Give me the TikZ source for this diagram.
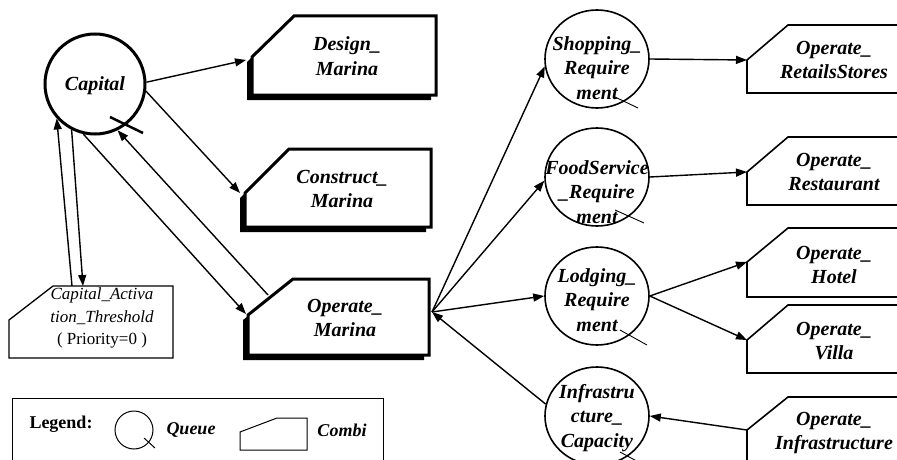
\documentclass[tikz,border=0pt]{standalone}
\usepackage{fontspec}
\setmainfont{Liberation Serif}
\usetikzlibrary{arrows.meta,shapes.geometric}
\tikzset{
  arr/.style={line width=1.4pt, -{Triangle[length=11pt,width=8pt]}},
  conn/.style={line width=1.4pt},
  bigq/.style={circle, draw, line width=3pt, minimum size=100pt, inner sep=0pt},
  smallq/.style={ellipse, draw, line width=1.6pt, minimum width=104pt, minimum height=98pt, inner sep=0pt},
  lbl/.style={font=\fontsize{20}{24.5}\selectfont\bfseries\itshape, align=center, inner sep=0pt},
  thrlbl/.style={font=\fontsize{17}{22.5}\selectfont, align=center, inner sep=0pt},
  leglbl/.style={font=\fontsize{18}{22}\selectfont\bfseries, inner sep=0pt},
  combithick/.style={draw, line width=3pt, fill=white, line join=miter},
  combishadow/.style={fill=black},
  combithin/.style={draw, line width=1.6pt, fill=white},
  tail/.style={line width=0.9pt},
}
% x1, y1, x2, y2, cutx, cuty, options
\newcommand\combishape[7]{\path[#7] (#1,#6) -- (#5,#2) -- (#3,#2) -- (#3,#4) -- (#1,#4) -- cycle;}
\begin{document}
\begin{tikzpicture}[x=1pt,y=-1pt]
\useasboundingbox (0,0) rectangle (897,460);
\clip (0,0) rectangle (897,460);

% ---------- thick combis ----------
\combishape{252}{16}{436}{95}{294}{57}{combishadow, xshift=-5pt, yshift=-5pt}
\combishape{252}{16}{436}{95}{294}{57}{combithick}
\combishape{245}{149}{431}{227}{289}{193}{combishadow, xshift=-5pt, yshift=-5pt}
\combishape{245}{149}{431}{227}{289}{193}{combithick}
\combishape{248}{279}{429}{355}{293}{315}{combishadow, xshift=-5pt, yshift=-5pt}
\combishape{248}{279}{429}{355}{293}{315}{combithick}

% ---------- thin combis ----------
\combishape{9}{286}{173}{358}{53}{320}{draw, line width=1.3pt, fill=white}
\combishape{747}{25}{910}{93}{788}{60}{combithin}
\combishape{747}{137}{910}{205}{788}{172}{combithin}
\combishape{747}{228}{910}{297}{788}{262}{combithin}
\combishape{747}{305}{910}{373}{788}{340}{combithin}
\combishape{747}{397}{910}{480}{788}{430}{combithin}

% ---------- combi labels and anchors ----------
\node[lbl] (design) at (347,56) {Design\_\\Marina};
\node[lbl] (construct) at (342,189) {Construct\_\\Marina};
\node[lbl] (om) at (345,318) {Operate\_\\Marina};
\node[thrlbl] (thr) at (102,318) {\itshape Capital\_Activa\\\itshape tion\_Threshold\\( Priority=0 )};
\node[lbl] (retail) at (834,60) {Operate\_\\RetailsStores};
\node[lbl] (rest) at (834,172) {Operate\_\\Restaurant};
\node[lbl] (hotel) at (834,265) {Operate\_\\Hotel};
\node[lbl] (villa) at (834,341) {Operate\_\\Villa};
\node[lbl] (oinfra) at (834,433) {Operate\_\\Infrastructure};

\coordinate (design-in) at (246,60);
\coordinate (construct-in) at (240,193);
\coordinate (om-in) at (246,314);
\coordinate (om-diag) at (268,295);
\coordinate (om-out) at (432,312);
\coordinate (thr-a) at (83,286);
\coordinate (thr-b) at (72,286);
\coordinate (retail-in) at (747,60);
\coordinate (rest-in) at (747,172);
\coordinate (hotel-in) at (747,262);
\coordinate (villa-in) at (747,340);
\coordinate (oinfra-in) at (747,430);

% ---------- queues ----------
\node[bigq] (cap) at (95,84) {};
\node[lbl] (cap-t) at (95,86) {Capital};
\draw[line width=2.5pt] (cap) ++(15,33) -- ++(33,16);

\node[smallq] (shop) at (597,59) {};
\node[lbl] (shop-t) at (597,68) {Shopping\_\\Require\\ment};
\node[smallq] (food) at (597,177) {};
\node[lbl] (food-t) at (597,192) {FoodService\\\_Require\\ment};
\node[smallq] (lodge) at (597,296) {};
\node[lbl] (lodge-t) at (597,300) {Lodging\_\\Require\\ment};
\node[smallq] (infra) at (597,416) {};
\node[lbl] (infra-t) at (597,418) {Infrastru\\cture\_\\Capacity};
\draw[tail] (shop) ++(18,38) -- ++(23,11);
\draw[tail] (food) ++(18,33) -- ++(29,13);
\draw[tail] (lodge) ++(23,34) -- ++(27,15);
\draw[tail] (infra) ++(23,36) -- ++(24,13);

% ---------- connectors ----------
\draw[arr] (cap.2) -- (design-in);
\draw[arr] (cap.-8) -- (construct-in);
\draw[arr] (cap.-103) -- (om-in);
\draw[arr] (om-diag) -- (cap.-64);
\draw[arr] (cap.-117) -- (thr-a);
\draw[arr] (thr-b) -- (cap.-138);

\draw[arr] (om-out) -- (shop.188);
\draw[arr] (om-out) -- (food.184);
\draw[arr] (om-out) -- (lodge.180);
\draw[arr] (infra.167) -- (om-out);

\draw[arr] (shop.east) -- (retail-in);
\draw[arr] (food.east) -- (rest-in);
\draw[arr] (lodge.east) -- (hotel-in);
\draw[arr] (lodge.east) -- (villa-in);
\draw[arr] (oinfra-in) -- (infra.east);

% ---------- legend ----------
\draw[line width=1pt] (12,398) rectangle (383,480);
\node[leglbl] (leg) at (61,424) {Legend:};
\node[circle, draw, line width=1pt, minimum size=38pt, inner sep=0pt] (legq) at (134,430) {};
\draw[line width=1pt] (legq) ++(10,8) -- ++(11,10);
\node[leglbl, font=\fontsize{18}{22}\selectfont\bfseries\itshape] (legqt) at (191,430) {Queue};
\combishape{240}{418}{307}{450}{277}{432}{draw, line width=1pt}
\coordinate (legc) at (273,434);
\node[leglbl, font=\fontsize{18}{22}\selectfont\bfseries\itshape] (legct) at (342,430) {Combi};
\end{tikzpicture}
\end{document}
